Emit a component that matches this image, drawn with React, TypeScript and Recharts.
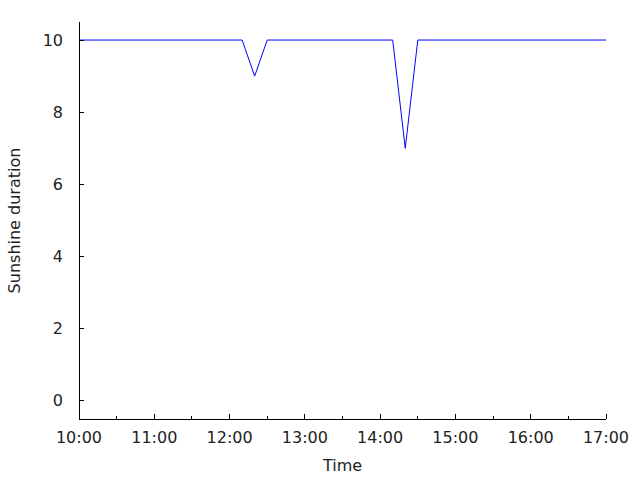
import React from 'react';
import { LineChart, Line, XAxis, YAxis } from 'recharts';

// ---- data ----
const times = ['10:00', '12:10', '12:20', '12:30', '14:10', '14:20', '14:30', '17:00'];
const sunshine = [10, 10, 9, 10, 10, 7, 10, 10];
const xTickLabels = ['10:00', '11:00', '12:00', '13:00', '14:00', '15:00', '16:00', '17:00'];
const yTicks = [0, 2, 4, 6, 8, 10];
const yDomain = [-0.5, 10.5];

const toMin = (s: string) => {
  const [h, m] = s.split(':').map(Number);
  return h * 60 + m;
};
const fmt = (v: number) => `${Math.floor(v / 60)}:${String(v % 60).padStart(2, '0')}`;

const data = times.map((t, i) => ({ t: toMin(t), v: sunshine[i] }));
const majorTicks = xTickLabels.map(toMin);
const xTicks: number[] = [];
majorTicks.forEach((m, i) => {
  xTicks.push(m);
  if (i < majorTicks.length - 1) xTicks.push(m + 30);
});
const xDomain = [majorTicks[0], majorTicks[majorTicks.length - 1]];

const FONT = "'DejaVu Sans', sans-serif";
const FS = 16;
const TXT = '#222';

const W = 640;
const H = 480;
const MARGIN = { top: 22, right: 34, left: 0, bottom: 0 };
const YW = 79;
const XH = 61;

const BottomTick = (p: any) => {
  const { x, y, payload } = p;
  const major = payload.value % 60 === 0;
  return (
    <g>
      <line x1={x} y1={y} x2={x} y2={y - (major ? 5 : 3)} stroke="#000" shapeRendering="crispEdges" />
      {major && (
        <text x={x} y={y + 18} textAnchor="middle" dominantBaseline="central" fontFamily={FONT} fontSize={FS} fill={TXT}>
          {fmt(payload.value)}
        </text>
      )}
    </g>
  );
};

const TopTick = (p: any) => {
  const { x, y, payload } = p;
  const major = payload.value % 60 === 0;
  return <line x1={x} y1={y} x2={x} y2={y + (major ? 5 : 3)} stroke="#000" shapeRendering="crispEdges" />;
};

const LeftTick = (p: any) => {
  const { x, y, payload } = p;
  return (
    <g>
      <line x1={x} y1={y} x2={x + 5} y2={y} stroke="#000" shapeRendering="crispEdges" />
      <text x={x - 16} y={y} textAnchor="end" dominantBaseline="central" fontFamily={FONT} fontSize={FS} fill={TXT}>
        {payload.value}
      </text>
    </g>
  );
};

const RightTick = (p: any) => {
  const { x, y } = p;
  return <line x1={x} y1={y} x2={x - 5} y2={y} stroke="#000" shapeRendering="crispEdges" />;
};

const axisLine = { stroke: '#000', shapeRendering: 'crispEdges' } as any;

export default function App() {
  const plotCx = YW + (W - MARGIN.right - YW) / 2;
  const plotCy = MARGIN.top + (H - XH - MARGIN.top) / 2;
  return (
    <div style={{ position: 'absolute', left: 0, top: 0, width: W, height: H, background: '#fff' }}>
      <LineChart width={W} height={H} data={data} margin={MARGIN}>
        <XAxis
          dataKey="t"
          type="number"
          domain={xDomain}
          ticks={xTicks}
          interval={0}
          height={XH}
          tickSize={0}
          tickMargin={0}
          tickLine={false}
          axisLine={axisLine}
          tick={<BottomTick />}
        />
        <XAxis
          xAxisId="top"
          orientation="top"
          dataKey="t"
          type="number"
          domain={xDomain}
          ticks={xTicks}
          interval={0}
          height={0}
          tickSize={0}
          tickMargin={0}
          tickLine={false}
          axisLine={axisLine}
          tick={<TopTick />}
        />
        <YAxis
          type="number"
          domain={yDomain}
          ticks={yTicks}
          interval={0}
          width={YW}
          tickSize={0}
          tickMargin={0}
          tickLine={false}
          axisLine={axisLine}
          tick={<LeftTick />}
          allowDataOverflow
        />
        <YAxis
          yAxisId="right"
          orientation="right"
          type="number"
          domain={yDomain}
          ticks={yTicks}
          interval={0}
          width={0}
          tickSize={0}
          tickMargin={0}
          tickLine={false}
          axisLine={axisLine}
          tick={<RightTick />}
          allowDataOverflow
        />
        <Line
          type="linear"
          dataKey="v"
          stroke="#0000ff"
          strokeWidth={1}
          dot={false}
          activeDot={false}
          isAnimationActive={false}
        />
        <text x={plotCx} y={465} textAnchor="middle" dominantBaseline="central" fontFamily={FONT} fontSize={FS} fill={TXT}>
          Time
        </text>
        <text
          x={14}
          y={plotCy}
          textAnchor="middle"
          dominantBaseline="central"
          transform={`rotate(-90 14 ${plotCy})`}
          fontFamily={FONT}
          fontSize={FS}
          fill={TXT}
        >
          Sunshine duration
        </text>
      </LineChart>
    </div>
  );
}
